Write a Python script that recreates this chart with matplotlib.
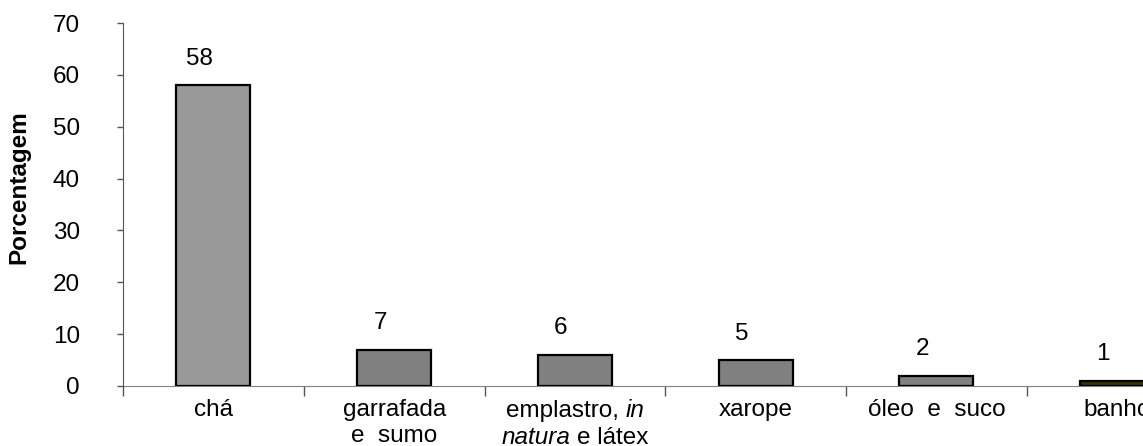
import matplotlib
matplotlib.use("Agg")
import matplotlib.pyplot as plt
from matplotlib.offsetbox import TextArea, HPacker, VPacker, AnnotationBbox
import numpy as np

categories = ["chá", "garrafada\ne  sumo", "emplastro, in\nnatura e látex",
              "xarope", "óleo  e  suco", "banho"]
italic_words = ["in", "natura"]
values = [58, 7, 6, 5, 2, 1]
bar_colors = ["#999999", "#808080", "#808080", "#808080", "#808080", "#333300"]
yticks = [0, 10, 20, 30, 40, 50, 60, 70]

plt.rcParams['font.family'] = ['Liberation Sans', 'DejaVu Sans']

W, H = 1143, 446
fig = plt.figure(figsize=(W / 100, H / 100), dpi=100)
left_px, right_px, top_px, bottom_px = 123, 1207.5, 23, 386
ax = fig.add_axes([left_px / W, 1 - bottom_px / H, (right_px - left_px) / W, (bottom_px - top_px) / H])

x = np.arange(len(categories))
ax.bar(x, values, width=0.41, color=bar_colors, edgecolor="black", linewidth=1.6, zorder=3)

fs = 17.5
for xi, v in zip(x, values):
    ax.annotate(str(v), (xi, v), xytext=(-10, 19), textcoords="offset points",
                ha="center", va="center", fontsize=fs)

ax.set_xlim(-0.5, len(categories) - 0.5)
ax.set_ylim(0, 70)
ax.set_yticks(yticks)
ax.tick_params(axis="y", direction="out", length=4, width=1, color="#555555", pad=27, labelsize=fs)

ax.set_xticks(np.arange(len(categories)) - 0.5)
ax.set_xticklabels([])
ax.tick_params(axis="x", which="major", direction="out", length=7, width=1, color="#555555")


def build_label(label):
    lines = []
    for line in label.split("\n"):
        segs = []
        for w in line.split(" "):
            it = w in italic_words
            if segs and segs[-1][1] == it:
                segs[-1] = (segs[-1][0] + " " + w, it)
            else:
                segs.append((w, it))
        boxes = [TextArea(t, textprops=dict(fontsize=fs, fontstyle="italic" if it else "normal"))
                 for t, it in segs]
        lines.append(HPacker(children=boxes, align="baseline", pad=0, sep=4.9))
    return VPacker(children=lines, align="center", pad=0, sep=2.5)


for xi, lab in zip(x, categories):
    ab = AnnotationBbox(build_label(lab), (xi, 0), xycoords=("data", "axes fraction"),
                        xybox=(0, -9.5), boxcoords="offset points", box_alignment=(0.5, 1),
                        frameon=False, pad=0, annotation_clip=False)
    ax.add_artist(ab)

for s in ["top", "right"]:
    ax.spines[s].set_visible(False)
ax.spines["left"].set_color("#555555")
ax.spines["bottom"].set_color("#808080")
ax.spines["bottom"].set_zorder(2)

fig.text(19 / W, 1 - 187 / H, "Porcentagem", rotation=90, ha="center", va="center",
         fontsize=fs, fontweight="bold")

fig.savefig("out.png", dpi=100)
